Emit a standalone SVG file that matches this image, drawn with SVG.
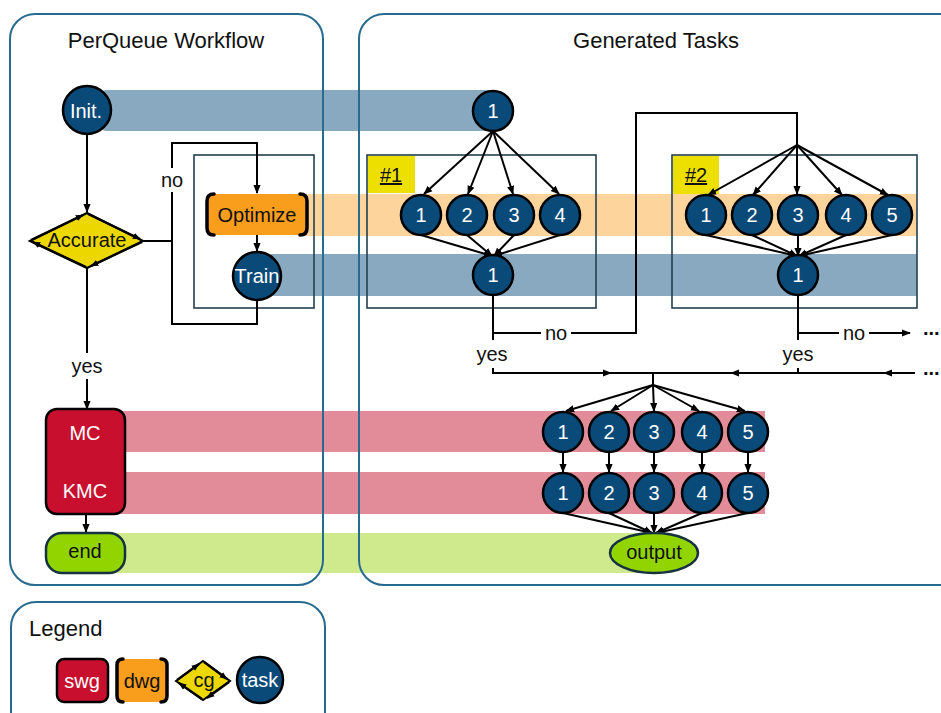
<svg xmlns="http://www.w3.org/2000/svg" width="941" height="713" viewBox="0 0 941 713">
<defs>
<marker id="ah" viewBox="0 0 10 10" refX="9" refY="5" markerWidth="9" markerHeight="9" markerUnits="userSpaceOnUse" orient="auto">
<path d="M0,1 L10,5 L0,9 z" fill="#000"/>
</marker>
<marker id="ahs" viewBox="0 0 10 10" refX="9" refY="5" markerWidth="8" markerHeight="8" markerUnits="userSpaceOnUse" orient="auto">
<path d="M0,1 L10,5 L0,9 z" fill="#000"/>
</marker>
<style>
text{font-family:"Liberation Sans",Arial,sans-serif;}
.panel{fill:none;stroke:#276b8f;stroke-width:2;}
.title{font-size:22px;fill:#111;text-anchor:middle;}
.task{fill:#0a4a78;stroke:#000;stroke-width:2.5;}
.tl{font-size:20px;fill:#fff;text-anchor:middle;}
.bl{font-size:20px;fill:#111;text-anchor:middle;}
.dots{font-size:20px;font-weight:bold;fill:#111;}
.c{fill:none;stroke:#000;stroke-width:2;}
.a{fill:none;stroke:#000;stroke-width:2;marker-end:url(#ah);}
.ds{fill:none;stroke:#000;stroke-width:2.2;marker-end:url(#ahs);}
.grp{fill:none;stroke:#22404f;stroke-width:1.6;}
.lbl{fill:#ede000;}
.bk{fill:none;stroke:#000;stroke-width:3.5;stroke-linecap:round;}
</style>
</defs>

<g id="bands">
<rect x="100" y="90" width="400" height="41" rx="6" fill="#88a9bf"/>
<rect x="300" y="194" width="617" height="42" fill="#fdd59c"/>
<rect x="270" y="254" width="647" height="42" fill="#88a9bf"/>
<rect x="115" y="411" width="650" height="41" fill="#e38c99"/>
<rect x="115" y="472" width="650" height="42" fill="#e38c99"/>
<rect x="115" y="533" width="525" height="40" fill="#cfe98d"/>
</g>

<g id="panels">
<rect class="panel" x="10" y="14" width="313" height="571" rx="25"/>
<text class="title" x="166" y="48">PerQueue Workflow</text>
<rect class="panel" x="359" y="14" width="620" height="571" rx="25"/>
<text class="title" x="656" y="48">Generated Tasks</text>
</g>

<g id="group-loop">
<rect class="grp" x="194" y="155" width="120" height="153"/>
</g>
<g id="group-1">
<rect class="grp" x="367" y="155" width="229" height="153" stroke="#222"/>
<rect class="lbl" x="368" y="156" width="47" height="37"/>
<text x="391" y="182" class="bl" text-decoration="underline">#1</text>
</g>
<g id="group-2">
<rect class="grp" x="672" y="155" width="245" height="153"/>
<rect class="lbl" x="673" y="156" width="46" height="38"/>
<text x="696" y="182" class="bl" text-decoration="underline">#2</text>
</g>

<g id="connectors">
<path class="a" d="M87,135 L87,212"/>
<path class="c" d="M143,241 L172,241"/>
<path class="a" d="M257,301 L257,324 L172,324 L172,143 L257,143 L257,193"/>
<rect x="158" y="168" width="28" height="24" fill="#fff"/>
<text class="bl" x="172" y="187">no</text>
<path class="a" d="M257,235 L257,251"/>
<path class="a" d="M87,268 L87,409"/>
<rect x="70" y="353" width="34" height="26" fill="#fff"/>
<text class="bl" x="87" y="373">yes</text>
<path class="a" d="M86,514 L86,532"/>

<path class="a" d="M493,131 L424,194"/>
<path class="a" d="M493,131 L468,194"/>
<path class="a" d="M493,131 L513,194"/>
<path class="a" d="M493,131 L559,194"/>
<path class="a" d="M421,235 L492,256"/>
<path class="a" d="M467,235 L492,256"/>
<path class="a" d="M514,235 L494,256"/>
<path class="a" d="M560,235 L494,256"/>
<path class="c" d="M493,295 L493,340"/>
<path class="c" d="M493,333 L636,333 L636,113 L797,113 L797,145"/>
<rect x="541" y="321" width="30" height="24" fill="#fff"/>
<text class="bl" x="556" y="340">no</text>
<text class="bl" x="492" y="361">yes</text>
<path class="c" d="M493,368 L493,373 L653,373"/>
<path class="a" d="M493,373 L611,373"/>

<path class="a" d="M797,145 L708,195"/>
<path class="a" d="M797,145 L753,195"/>
<path class="a" d="M797,145 L797,194"/>
<path class="a" d="M797,145 L842,195"/>
<path class="a" d="M797,145 L888,195"/>
<path class="a" d="M706,235 L797,256"/>
<path class="a" d="M752,235 L797,256"/>
<path class="a" d="M798,235 L798,256"/>
<path class="a" d="M846,235 L799,256"/>
<path class="a" d="M892,235 L799,256"/>
<path class="c" d="M798,295 L798,340"/>
<path class="a" d="M798,333 L910,333"/>
<rect x="839" y="321" width="30" height="24" fill="#fff"/>
<text class="bl" x="854" y="340">no</text>
<text class="dots" x="923" y="335">...</text>
<text class="bl" x="798" y="361">yes</text>
<path class="c" d="M798,368 L798,373"/>
<path class="c" d="M915,373 L653,373"/>
<path class="a" d="M915,373 L884,373"/>
<path class="a" d="M800,373 L731,373"/>
<text class="dots" x="923" y="375">...</text>

<path class="c" d="M653,373 L653,385"/>
<path class="a" d="M653,385 L566,411"/>
<path class="a" d="M653,385 L611,411"/>
<path class="a" d="M653,385 L654,411"/>
<path class="a" d="M653,385 L699,411"/>
<path class="a" d="M653,385 L745,411"/>
<path class="a" d="M563,452 L563,472"/>
<path class="a" d="M609,452 L609,472"/>
<path class="a" d="M654,452 L654,472"/>
<path class="a" d="M702,452 L702,472"/>
<path class="a" d="M748,452 L748,472"/>
<path class="a" d="M563,513 L652,533"/>
<path class="a" d="M609,513 L652,533"/>
<path class="a" d="M654,513 L654,533"/>
<path class="a" d="M702,513 L656,533"/>
<path class="a" d="M748,513 L656,533"/>
</g>

<g id="init">
<circle class="task" cx="87" cy="110" r="24"/>
<text class="tl" x="86" y="118">Init.</text>
</g>
<g id="accurate">
<polygon points="30,241 87,213 143,241 87,268" fill="#ecd800" stroke="#000" stroke-width="2.2"/>
<path class="ds" d="M31,240 L83,215"/>
<path class="ds" d="M88,214 L140,239"/>
<path class="ds" d="M142,242 L91,266"/>
<path class="ds" d="M86,267 L33,242"/>
<text class="bl" x="87" y="247" font-size="18">Accurate</text>
</g>
<g id="optimize">
<rect x="207" y="194" width="100" height="41" rx="8" fill="#f99d1c"/>
<path class="bk" d="M214,194 Q207,194 207,201 L207,228 Q207,235 214,235"/>
<path class="bk" d="M300,194 Q307,194 307,201 L307,228 Q307,235 300,235"/>
<text class="bl" x="257" y="222" font-size="21">Optimize</text>
</g>
<g id="train">
<circle class="task" cx="257" cy="276" r="24"/>
<text class="tl" x="257" y="283">Train</text>
</g>
<g id="mc-kmc">
<rect x="46" y="409" width="79" height="105" rx="11" fill="#c8102e" stroke="#000" stroke-width="2.5"/>
<text class="tl" x="85" y="440" font-size="19">MC</text>
<text class="tl" x="85" y="498" font-size="19">KMC</text>
</g>
<g id="end">
<rect x="46" y="533" width="79" height="40" rx="16" fill="#92d400" stroke="#16313f" stroke-width="2.5"/>
<text class="bl" x="85" y="558">end</text>
</g>

<g id="t0">
<circle class="task" cx="493" cy="111" r="20"/>
<text class="tl" x="493" y="118">1</text>
</g>
<g id="t1-opt">
<circle class="task" cx="421" cy="215" r="20"/><text class="tl" x="421" y="222">1</text>
<circle class="task" cx="467" cy="215" r="20"/><text class="tl" x="467" y="222">2</text>
<circle class="task" cx="514" cy="215" r="20"/><text class="tl" x="514" y="222">3</text>
<circle class="task" cx="560" cy="215" r="20"/><text class="tl" x="560" y="222">4</text>
</g>
<g id="t1-train">
<circle class="task" cx="493" cy="275" r="20"/><text class="tl" x="493" y="282">1</text>
</g>
<g id="t2-opt">
<circle class="task" cx="706" cy="215" r="20"/><text class="tl" x="706" y="222">1</text>
<circle class="task" cx="752" cy="215" r="20"/><text class="tl" x="752" y="222">2</text>
<circle class="task" cx="798" cy="215" r="20"/><text class="tl" x="798" y="222">3</text>
<circle class="task" cx="846" cy="215" r="20"/><text class="tl" x="846" y="222">4</text>
<circle class="task" cx="892" cy="215" r="20"/><text class="tl" x="892" y="222">5</text>
</g>
<g id="t2-train">
<circle class="task" cx="798" cy="275" r="20"/><text class="tl" x="798" y="282">1</text>
</g>
<g id="mc-tasks">
<circle class="task" cx="563" cy="432" r="20"/><text class="tl" x="563" y="439">1</text>
<circle class="task" cx="609" cy="432" r="20"/><text class="tl" x="609" y="439">2</text>
<circle class="task" cx="654" cy="432" r="20"/><text class="tl" x="654" y="439">3</text>
<circle class="task" cx="702" cy="432" r="20"/><text class="tl" x="702" y="439">4</text>
<circle class="task" cx="748" cy="432" r="20"/><text class="tl" x="748" y="439">5</text>
</g>
<g id="kmc-tasks">
<circle class="task" cx="563" cy="493" r="20"/><text class="tl" x="563" y="500">1</text>
<circle class="task" cx="609" cy="493" r="20"/><text class="tl" x="609" y="500">2</text>
<circle class="task" cx="654" cy="493" r="20"/><text class="tl" x="654" y="500">3</text>
<circle class="task" cx="702" cy="493" r="20"/><text class="tl" x="702" y="500">4</text>
<circle class="task" cx="748" cy="493" r="20"/><text class="tl" x="748" y="500">5</text>
</g>
<g id="output">
<ellipse cx="654" cy="553" rx="44" ry="20" fill="#92d400" stroke="#16313f" stroke-width="2.5"/>
<text class="bl" x="654" y="559" font-size="21">output</text>
</g>

<g id="legend">
<rect class="panel" x="11" y="602" width="314" height="140" rx="25"/>
<text x="29" y="636" font-size="22" fill="#111">Legend</text>
<g id="legend-swg">
<rect x="57" y="659" width="51" height="43" rx="7" fill="#c8102e" stroke="#000" stroke-width="2.5"/>
<text class="tl" x="82" y="688">swg</text>
</g>
<g id="legend-dwg">
<rect x="117" y="659" width="50" height="43" rx="7" fill="#f99d1c"/>
<path class="bk" d="M123,659 Q117,659 117,665 L117,696 Q117,702 123,702"/>
<path class="bk" d="M161,659 Q167,659 167,665 L167,696 Q167,702 161,702"/>
<text class="bl" x="142" y="688">dwg</text>
</g>
<g id="legend-cg">
<polygon points="176,681 203,661 230,681 203,700" fill="#ecd800" stroke="#000" stroke-width="2"/>
<path class="ds" d="M177,680 L199,664"/>
<path class="ds" d="M204,662 L227,679"/>
<path class="ds" d="M229,682 L207,698"/>
<path class="ds" d="M202,699 L179,683"/>
<text class="bl" x="204" y="687" font-size="17">cg</text>
</g>
<g id="legend-task">
<circle class="task" cx="260" cy="680" r="23"/>
<text class="tl" x="260" y="687">task</text>
</g>
</g>
</svg>
